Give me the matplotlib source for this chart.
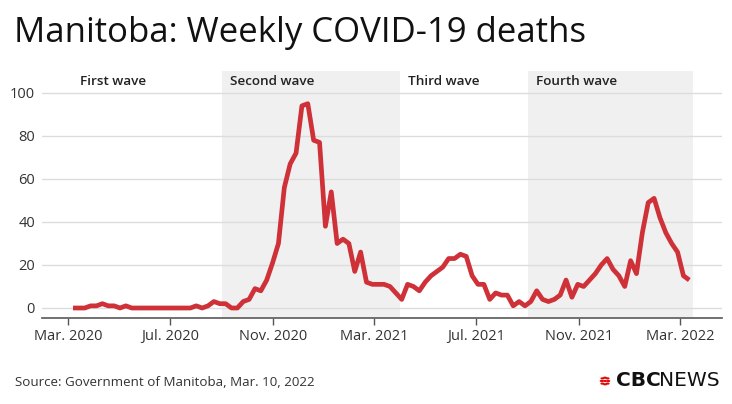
import matplotlib
matplotlib.use("Agg")
import matplotlib.pyplot as plt
import matplotlib.dates as mdates
import matplotlib.transforms as mtransforms
from matplotlib.patches import Circle
import pandas as pd

plt.rcParams['font.family'] = ['Open Sans', 'DejaVu Sans']

# ---- data ----
start_date = "2020-03-07"
weekly_deaths = [0, 0, 0, 1, 1, 2, 1, 1, 0, 1, 0, 0, 0, 0, 0, 0, 0, 0, 0, 0,
                 0, 1, 0, 1, 3, 2, 2, 0, 0, 3, 4, 9, 8, 13, 21, 30, 56, 67, 72, 94,
                 95, 78, 77, 38, 54, 30, 32, 30, 17, 26, 12, 11, 11, 11, 10, 7, 4, 11, 10, 8,
                 12, 15, 17, 19, 23, 23, 25, 24, 15, 11, 11, 4, 7, 6, 6, 1, 3, 1, 3, 8,
                 4, 3, 4, 6, 13, 5, 11, 10, 13, 16, 20, 23, 18, 15, 10, 22, 16, 35, 49, 51,
                 42, 35, 30, 26, 15, 13]
wave_names = ["First wave", "Second wave", "Third wave", "Fourth wave"]
wave_starts = ["2020-03-06", "2020-09-01", "2021-04-01", "2021-09-01"]
shaded_spans = [("2020-09-01", "2021-04-01"), ("2021-09-01", "2022-03-16")]
tick_dates = ["2020-03-01", "2020-07-01", "2020-11-01", "2021-03-01",
              "2021-07-01", "2021-11-01", "2022-03-01"]
tick_labels = ["Mar. 2020", "Jul. 2020", "Nov. 2020", "Mar. 2021",
               "Jul. 2021", "Nov. 2021", "Mar. 2022"]
y_ticks = [0, 20, 40, 60, 80, 100]

dates = pd.date_range(start_date, periods=len(weekly_deaths), freq="7D")

fig = plt.figure(figsize=(7.32, 4.04), dpi=100)
ax = fig.add_axes([42/732, 86/404, 680/732, 247/404])

for s, e in shaded_spans:
    ax.axvspan(pd.Timestamp(s), pd.Timestamp(e), color="#f0f0f0", lw=0, zorder=0)

for yv in y_ticks:
    ax.axhline(yv, color="#dcdcdc", lw=1.0, zorder=1)

ax.plot(dates, weekly_deaths, color="#cf3139", lw=3.4, solid_joinstyle="round",
        solid_capstyle="butt", zorder=3)

ax.set_xlim(pd.Timestamp("2020-01-30"), pd.Timestamp("2022-04-20"))
ax.set_ylim(-4.65, 110.2)

ax.set_yticks(y_ticks)
ax.set_yticklabels([str(v) for v in y_ticks], fontsize=10.5, color="#333333")
ax.tick_params(axis="y", length=0, pad=5)

ax.set_xticks([pd.Timestamp(d) for d in tick_dates])
ax.set_xticklabels(tick_labels, fontsize=10.5, color="#333333")
ax.tick_params(axis="x", length=5, width=1, color="#555555", pad=3, direction="out")

for sp in ["top", "right", "left"]:
    ax.spines[sp].set_visible(False)
ax.spines["bottom"].set_color("#666666")
ax.spines["bottom"].set_linewidth(1.3)

trans = mtransforms.blended_transform_factory(ax.transData, ax.transAxes)
for name, sd in zip(wave_names, wave_starts):
    ax.annotate(name, xy=(mdates.date2num(pd.Timestamp(sd)), 0.958), xycoords=trans,
                xytext=(8, 0), textcoords="offset pixels",
                ha="left", va="center", fontsize=9.7, fontweight="semibold",
                color="#222222")

fig.text(14/732, 1 - 42/404, "Manitoba: Weekly COVID-19 deaths", fontsize=25,
         color="#111111", ha="left", va="baseline")

fig.text(15/732, 1 - 383/404, "Source: Government of Manitoba, Mar. 10, 2022",
         fontsize=9.6, color="#333333", ha="left", va="center")

# CBC gem (approximation)
gx, gy = 605/732, 1 - 381/404
r = 2.0 / 732
for dx, dy in [(0, 0), (-3.3, 0), (3.3, 0), (0, -3.3), (0, 3.3),
               (-2.6, 2.6), (2.6, 2.6), (-2.6, -2.6), (2.6, -2.6)]:
    fig.patches.append(Circle((gx + dx/732, gy + dy/404), radius=r,
                              transform=fig.transFigure, color="#e60505",
                              lw=0))
fig.text(661/732, 1 - 381/404, "CBC", fontsize=14.5, fontweight="bold",
         color="#111111", ha="right", va="center", family="DejaVu Sans")
fig.text(720/732, 1 - 381/404, "NEWS", fontsize=14.5, fontweight="normal",
         color="#111111", ha="right", va="center", family="DejaVu Sans")

fig.savefig("out.png", dpi=100)
